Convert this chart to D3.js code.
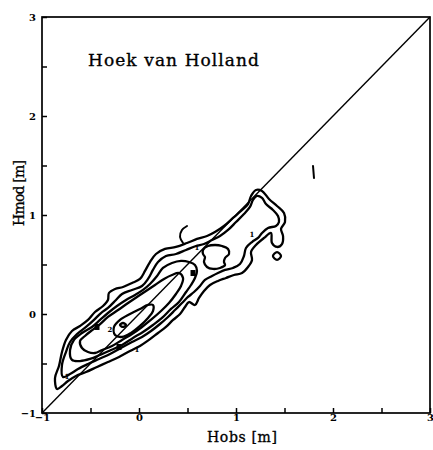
<!DOCTYPE html>
<html>
<head>
<meta charset="utf-8">
<script src="https://cdn.jsdelivr.net/npm/d3@7"></script>
<style>
  html, body { margin: 0; padding: 0; background: #fff; }
  svg { display: block; }
</style>
</head>
<body>
<svg id="chart" width="433" height="450"></svg>
<script>
// Axis ticks (metres)
const tickValues = [-1, -0.5, 0, 0.5, 1, 1.5, 2, 2.5, 3];
const tickLabels = ["\u22121", "", "0", "", "1", "", "2", "", "3"];

// Joint-frequency contours of observed vs modelled height, [Hobs, Hmod] in m
const contour1 = [
  [-0.845,-0.757],[-0.866,-0.646],[-0.825,-0.525],[-0.794,-0.384],[-0.753,-0.262],
  [-0.691,-0.172],[-0.608,-0.121],[-0.526,-0.060],[-0.454,0.020],[-0.371,0.081],
  [-0.320,0.142],[-0.310,0.212],[-0.247,0.253],[-0.165,0.273],[-0.072,0.313],
  [0.010,0.354],[0.062,0.435],[0.113,0.525],[0.175,0.606],[0.268,0.657],[0.381,0.677],
  [0.495,0.717],[0.598,0.758],[0.701,0.788],[0.783,0.828],[0.876,0.889],
  [0.969,0.970],[1.052,1.041],[1.124,1.111],[1.155,1.192],[1.206,1.253],
  [1.268,1.243],[1.340,1.162],[1.423,1.091],[1.495,1.020],[1.505,0.929],
  [1.464,0.859],[1.485,0.788],[1.474,0.707],[1.423,0.677],[1.371,0.717],
  [1.361,0.818],[1.289,0.768],[1.206,0.697],[1.155,0.626],[1.165,0.546],
  [1.124,0.475],[1.062,0.414],[0.979,0.394],[0.897,0.364],[0.814,0.334],
  [0.732,0.293],[0.670,0.233],[0.619,0.162],[0.577,0.091],[0.515,0.121],
  [0.474,0.071],[0.423,0.000],[0.351,-0.060],[0.278,-0.131],[0.196,-0.192],
  [0.103,-0.262],[0.010,-0.323],[-0.093,-0.374],[-0.206,-0.434],[-0.320,-0.485],
  [-0.433,-0.535],[-0.546,-0.586],[-0.650,-0.626],[-0.732,-0.677],[-0.794,-0.727]
];
const contour2 = [
  [-0.784,-0.636],[-0.794,-0.515],[-0.753,-0.384],[-0.711,-0.283],[-0.639,-0.202],
  [-0.546,-0.131],[-0.464,-0.060],[-0.392,0.010],[-0.320,0.061],[-0.237,0.142],
  [-0.175,0.202],[-0.072,0.243],[0.031,0.283],[0.093,0.354],[0.144,0.445],
  [0.196,0.525],[0.278,0.586],[0.381,0.606],[0.485,0.647],[0.588,0.687],
  [0.670,0.707],[0.753,0.748],[0.835,0.788],[0.918,0.849],[1.000,0.929],
  [1.082,1.010],[1.144,1.081],[1.175,1.152],[1.216,1.192],[1.268,1.172],
  [1.309,1.111],[1.381,1.051],[1.433,0.990],[1.443,0.929],[1.412,0.889],
  [1.330,0.869],[1.268,0.818],[1.227,0.768],[1.165,0.727],[1.103,0.667],
  [1.082,0.586],[1.041,0.505],[0.969,0.465],[0.887,0.445],[0.814,0.414],
  [0.753,0.384],[0.680,0.344],[0.629,0.283],[0.567,0.222],[0.505,0.172],
  [0.443,0.111],[0.371,0.040],[0.299,-0.030],[0.216,-0.101],[0.124,-0.172],
  [0.031,-0.232],[-0.072,-0.283],[-0.186,-0.343],[-0.299,-0.404],[-0.412,-0.454],
  [-0.526,-0.505],[-0.629,-0.556],[-0.711,-0.606]
];
const contour3 = [
  [-0.691,-0.464],[-0.711,-0.364],[-0.670,-0.262],[-0.588,-0.192],[-0.485,-0.131],
  [-0.402,-0.060],[-0.320,0.010],[-0.227,0.081],[-0.134,0.142],[-0.041,0.192],
  [0.041,0.243],[0.113,0.303],[0.186,0.384],[0.247,0.465],[0.340,0.515],
  [0.433,0.536],[0.515,0.525],[0.577,0.495],[0.598,0.435],[0.577,0.364],
  [0.536,0.293],[0.485,0.222],[0.412,0.121],[0.330,0.051],[0.237,-0.040],
  [0.144,-0.111],[0.041,-0.182],[-0.062,-0.242],[-0.175,-0.313],[-0.289,-0.364],
  [-0.402,-0.414],[-0.505,-0.454],[-0.608,-0.475]
];
const contour4 = [
  [-0.608,-0.272],[-0.588,-0.343],[-0.526,-0.384],[-0.454,-0.394],[-0.381,-0.364],
  [-0.278,-0.323],[-0.175,-0.262],[-0.072,-0.202],[0.031,-0.131],[0.134,-0.050],
  [0.227,0.030],[0.309,0.111],[0.381,0.202],[0.433,0.283],[0.454,0.364],
  [0.412,0.414],[0.340,0.394],[0.258,0.354],[0.165,0.293],[0.072,0.232],
  [-0.021,0.172],[-0.113,0.111],[-0.216,0.040],[-0.320,-0.030],[-0.423,-0.121],
  [-0.495,-0.172],[-0.557,-0.222]
];
const contour5 = [
  [-0.247,-0.212],[-0.258,-0.131],[-0.196,-0.060],[-0.093,0.000],[0.010,0.051],
  [0.093,0.091],[0.144,0.091],[0.144,0.030],[0.093,-0.040],[0.010,-0.121],
  [-0.083,-0.192],[-0.175,-0.232]
];
const contour6 = [[-0.196,-0.111],[-0.165,-0.091],[-0.134,-0.111],[-0.165,-0.131]];
const contourHole = [
  [0.660,0.647],[0.711,0.687],[0.784,0.697],[0.856,0.687],[0.918,0.657],
  [0.928,0.606],[0.887,0.566],[0.876,0.525],[0.887,0.495],[0.835,0.465],
  [0.763,0.455],[0.701,0.475],[0.670,0.525],[0.680,0.576],[0.660,0.606]
];
const contourIsland = [[1.423,0.626],[1.464,0.586],[1.423,0.546],[1.381,0.586]];
const closedContours = [contour1, contour2, contour3, contour4, contour5, contour6, contourHole, contourIsland];

// Contour fragments left open
const hookLine = [[0.454,0.717],[0.423,0.778],[0.443,0.848],[0.495,0.889]];
const strayLine = [[1.794,1.495],[1.804,1.374]];
const openContours = [hookLine, strayLine];

// Contour level labels
const levelLabels = [
  {x: -0.742, y: -0.636, t: "1"},
  {x: 0.598, y: 0.667, t: "1"},
  {x: 1.165, y: 0.798, t: "1"},
  {x: -0.021, y: -0.363, t: "1"},
  {x: -0.299, y: -0.161, t: "2"}
];
const labelBlobs = [[-0.433,-0.131],[-0.206,-0.333],[0.557,0.414]];

// Line of perfect agreement
const diagonal = [[-1,-1],[3,3]];

const svg = d3.select("#chart");
const x = d3.scaleLinear().domain([-1, 3]).range([42, 430]);
const y = d3.scaleLinear().domain([-1, 3]).range([413, 17]);

const closedLine = d3.line()
  .x(d => x(d[0])).y(d => y(d[1]))
  .curve(d3.curveCatmullRomClosed.alpha(0.5));
const openLine = d3.line()
  .x(d => x(d[0])).y(d => y(d[1]))
  .curve(d3.curveCatmullRom.alpha(0.5));
const straight = d3.line().x(d => x(d[0])).y(d => y(d[1]));

// frame
svg.append("rect")
  .attr("x", x(-1)).attr("y", y(3))
  .attr("width", x(3) - x(-1)).attr("height", y(-1) - y(3))
  .attr("fill", "none").attr("stroke", "#000").attr("stroke-width", 1.7);

const fmt = v => tickLabels[tickValues.indexOf(v)];

const xAxis = svg.append("g")
  .attr("transform", `translate(0,${y(-1)})`)
  .call(d3.axisBottom(x).tickValues(tickValues).tickFormat(fmt)
    .tickSize(-5).tickSizeOuter(0).tickPadding(1));
const yAxis = svg.append("g")
  .attr("transform", `translate(${x(-1)},0)`)
  .call(d3.axisLeft(y).tickValues(tickValues).tickFormat(fmt)
    .tickSize(-5).tickSizeOuter(0).tickPadding(6));

[xAxis, yAxis].forEach(g => {
  g.select(".domain").remove();
  g.selectAll(".tick line").attr("stroke", "#000").attr("stroke-width", 1.5);
  g.selectAll(".tick text")
    .attr("fill", "#000")
    .style("font-family", "'DejaVu Serif', serif")
    .style("font-weight", "bold")
    .style("font-size", "10px");
});

// diagonal
svg.append("path")
  .attr("d", straight(diagonal))
  .attr("fill", "none").attr("stroke", "#000").attr("stroke-width", 1.4);

// contours
svg.append("g").selectAll("path")
  .data(closedContours)
  .join("path")
  .attr("d", closedLine)
  .attr("fill", "none").attr("stroke", "#000").attr("stroke-width", 2.3)
  .attr("stroke-linejoin", "round");

svg.append("g").selectAll("path")
  .data(openContours)
  .join("path")
  .attr("d", openLine)
  .attr("fill", "none").attr("stroke", "#000").attr("stroke-width", 2)
  .attr("stroke-linecap", "round");

svg.append("g").selectAll("rect")
  .data(labelBlobs)
  .join("rect")
  .attr("x", d => x(d[0]) - 2.5).attr("y", d => y(d[1]) - 3)
  .attr("width", 5).attr("height", 6)
  .attr("fill", "#000");

svg.append("g").selectAll("text")
  .data(levelLabels)
  .join("text")
  .attr("x", d => x(d.x)).attr("y", d => y(d.y))
  .attr("text-anchor", "middle").attr("dominant-baseline", "central")
  .style("font-family", "'DejaVu Serif', serif")
  .style("font-weight", "bold")
  .style("font-size", "7px")
  .text(d => d.t);

// titles
svg.append("text")
  .attr("x", 88).attr("y", 66)
  .attr("textLength", 171)
  .attr("stroke", "#000").attr("stroke-width", 0.35)
  .style("font-family", "'DejaVu Serif', serif")
  .style("font-size", "17px")
  .text("Hoek van Holland");

svg.append("text")
  .attr("x", 242).attr("y", 442)
  .attr("text-anchor", "middle")
  .attr("textLength", 70)
  .attr("stroke", "#000").attr("stroke-width", 0.3)
  .style("font-family", "'DejaVu Serif', serif")
  .style("font-size", "14px")
  .text("Hobs [m]");

svg.append("text")
  .attr("transform", "translate(24,193) rotate(-90)")
  .attr("text-anchor", "middle")
  .attr("textLength", 66)
  .attr("stroke", "#000").attr("stroke-width", 0.3)
  .style("font-family", "'DejaVu Serif', serif")
  .style("font-size", "14px")
  .text("Hmod [m]");
</script>
</body>
</html>
